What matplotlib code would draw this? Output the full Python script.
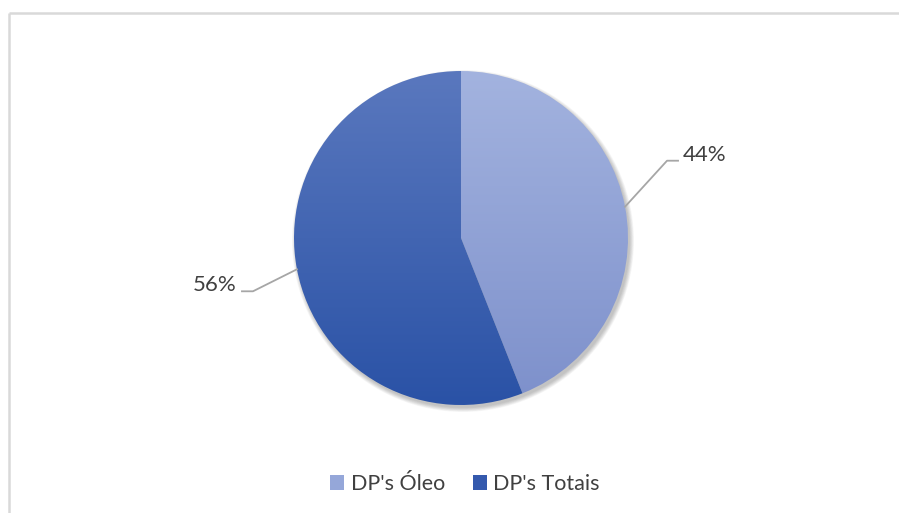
import numpy as np
import matplotlib
matplotlib.use("Agg")
from matplotlib import pyplot as plt
from matplotlib.patches import Wedge, Circle, Rectangle
from matplotlib.colors import LinearSegmentedColormap

## dados
labels = ["DP's Óleo", "DP's Totais"]
values = [44, 56]
top_colors = ["#A3B3DF", "#5A78BE"]
bottom_colors = ["#7D90CB", "#2A52A6"]
legend_colors = ["#95A7D9", "#3459AD"]

plt.rcParams['font.family'] = ['Lato', 'DejaVu Sans']

W, H = 899, 513
fig = plt.figure(figsize=(W / 100, H / 100), dpi=100)
ax = fig.add_axes([0, 0, 1, 1])
ax.set_xlim(0, W)
ax.set_ylim(0, H)
ax.set_aspect('equal')
ax.axis('off')

# borda do gráfico
ax.plot([9, W], [H - 13, H - 13], color="#D9D9D9", lw=1.8, solid_capstyle='butt')
ax.plot([9, 9], [0, H - 13], color="#D9D9D9", lw=1.8, solid_capstyle='butt')

cx, cy, r = 461, H - 238, 167

# sombra
for k in range(8):
    ax.add_patch(Circle((cx + 2, cy - 3), r + 4 - k * 0.6, color='black',
                        alpha=0.03, lw=0, zorder=1))

## fatias com degradê
total = float(sum(values))
start = 90.0
for i, v in enumerate(values):
    ang = 360.0 * v / total
    t1, t2 = start - ang, start
    wd = Wedge((cx, cy), r, t1, t2, lw=0, facecolor='none', zorder=3)
    ax.add_patch(wd)
    cmap = LinearSegmentedColormap.from_list('g%d' % i, [bottom_colors[i], top_colors[i]])
    grad = np.linspace(0, 1, 256).reshape(-1, 1)
    im = ax.imshow(grad, cmap=cmap, origin='lower', aspect='auto',
                   extent=[cx - r, cx + r, cy - r, cy + r], zorder=2)
    im.set_clip_path(wd)

    # rótulo com linha guia
    mid = np.deg2rad((t1 + t2) / 2)
    ax0, ay0 = cx + r * np.cos(mid), cy + r * np.sin(mid)
    side = 1 if np.cos(mid) > 0 else -1
    if side > 0:
        ex, ey = ax0 + 42, ay0 + 46
    else:
        ex, ey = ax0 - 44, ay0 - 22
    hx = ex + side * 11
    ax.plot([ax0, ex, hx], [ay0, ey, ey], color="#A6A6A6", lw=1.3, zorder=4)
    ax.text(hx + side * 5, ey + 6, "%d%%" % v, ha='left' if side > 0 else 'right',
            va='center', fontsize=16, color="#404040", zorder=5)
    start = t1

## legenda
handles = [Rectangle((0, 0), 1, 1, facecolor=c, lw=0) for c in legend_colors]
fig.legend(handles, labels, loc='center', bbox_to_anchor=(465 / W, 1 - 484 / H),
           ncol=2, frameon=False, fontsize=15.5, labelcolor="#404040",
           handlelength=0.65, handleheight=0.65, handletextpad=0.3, columnspacing=1.3)

fig.savefig('out.png', dpi=100, facecolor='white')
